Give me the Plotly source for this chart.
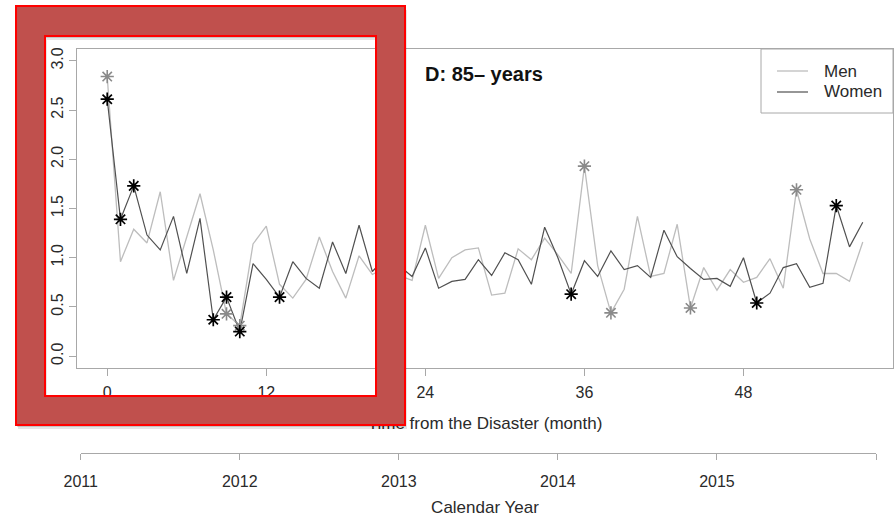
import plotly.graph_objects as go

W, H = 895, 516
FONT = "Liberation Sans, Arial, Helvetica, sans-serif"

# ---- data: monthly standardized ratio, 85+ years -------------------------
months = list(range(58))
men = [2.84, 0.96, 1.29, 1.15, 1.67, 0.77, 1.21, 1.65, 1.08, 0.43,
       0.31, 1.14, 1.32, 0.73, 0.59, 0.78, 1.21, 0.86, 0.59, 1.02,
       0.83, 0.90, 0.82, 0.77, 1.33, 0.79, 1.00, 1.08, 1.10, 0.62,
       0.64, 1.09, 0.98, 1.20, 1.03, 0.84, 1.93, 0.92, 0.44, 0.68,
       1.42, 0.81, 0.84, 1.34, 0.49, 0.90, 0.67, 0.88, 0.75, 0.80,
       0.99, 0.69, 1.69, 1.19, 0.84, 0.84, 0.76, 1.16]
women = [2.61, 1.39, 1.73, 1.23, 1.08, 1.42, 0.84, 1.40, 0.37, 0.60,
         0.25, 0.94, 0.78, 0.60, 0.96, 0.79, 0.69, 1.16, 0.84, 1.33,
         0.86, 1.00, 0.92, 0.81, 1.10, 0.69, 0.76, 0.78, 0.98, 0.82,
         1.05, 0.98, 0.73, 1.31, 1.00, 0.63, 0.97, 0.81, 1.07, 0.88,
         0.92, 0.80, 1.28, 1.01, 0.89, 0.78, 0.79, 0.71, 1.00, 0.54,
         0.64, 0.90, 0.94, 0.70, 0.74, 1.53, 1.11, 1.36]
# months flagged as significant
men_sig = [0, 9, 10, 36, 38, 44, 52]
women_sig = [0, 1, 2, 8, 9, 10, 13, 35, 49, 55]

month_ticks = [0, 12, 24, 36, 48]
y_ticks = [0.0, 0.5, 1.0, 1.5, 2.0, 2.5, 3.0]
year_start_months = [-2, 10, 22, 34, 46, 58]   # January of each year
year_labels = ["2011", "2012", "2013", "2014", "2015", ""]

# ---- layout geometry (pixels) ---------------------------------------------
PX0, PX1, PY0, PY1 = 77, 893, 49, 368
XR = [-2.28, 59.28]
YR = [-0.12, 3.12]
CAL_Y = 453

MEN_C = "#bdbdbd"
WOMEN_C = "#505050"
AX_C = "#a8a8a8"
TXT_C = "#2a2a2a"


def px_x(m):
    return PX0 + (m - XR[0]) / (XR[1] - XR[0]) * (PX1 - PX0)


def fx(px):
    return px / W


def fy(py):
    return 1 - py / H


fig = go.Figure()

fig.add_trace(go.Scatter(x=months, y=men, mode="lines", name="Men",
                         line=dict(color=MEN_C, width=1.3),
                         showlegend=False, hoverinfo="skip"))
fig.add_trace(go.Scatter(x=months, y=women, mode="lines", name="Women",
                         line=dict(color=WOMEN_C, width=1.2),
                         showlegend=False, hoverinfo="skip"))
fig.add_trace(go.Scatter(x=men_sig, y=[men[i] for i in men_sig], mode="markers",
                         marker=dict(symbol="asterisk-open", size=11, color="#8a8a8a",
                                     line=dict(color="#8a8a8a", width=1.6)),
                         showlegend=False, hoverinfo="skip"))
fig.add_trace(go.Scatter(x=women_sig, y=[women[i] for i in women_sig], mode="markers",
                         marker=dict(symbol="asterisk-open", size=11, color="#000000",
                                     line=dict(color="#000000", width=1.7)),
                         showlegend=False, hoverinfo="skip"))

# calendar-year scale (invisible anchor points at each January)
fig.add_trace(go.Scatter(x=year_start_months, y=[0.5] * len(year_start_months),
                         mode="markers", marker=dict(opacity=0, size=1),
                         xaxis="x3", yaxis="y3", showlegend=False,
                         hoverinfo="skip"))

# axis titles on a full-page pixel canvas (kept beneath the highlight frame)
fig.add_trace(go.Scatter(x=[(PX0 + PX1) / 2, (PX0 + PX1) / 2], y=[425, 509],
                         text=["Time from the Disaster (month)", "Calendar Year"],
                         mode="text", textposition="middle center",
                         textfont=dict(family=FONT, size=17, color=TXT_C),
                         xaxis="x4", yaxis="y4", showlegend=False,
                         hoverinfo="skip", cliponaxis=False))

axis_common = dict(showgrid=False, zeroline=False, ticks="outside",
                   tickcolor=AX_C, tickwidth=1, showline=True, linecolor=AX_C,
                   linewidth=1, automargin=False,
                   tickfont=dict(family=FONT, size=16, color=TXT_C))

fig.update_layout(
    width=W, height=H, autosize=False,
    margin=dict(l=0, r=0, t=0, b=0, pad=0, autoexpand=False),
    paper_bgcolor="white", plot_bgcolor="rgba(0,0,0,0)",
    showlegend=False,
    xaxis=dict(domain=[fx(PX0), fx(PX1)], range=XR, tickvals=month_ticks,
               ticklen=7, mirror=True, anchor="y", ticklabelstandoff=3,
               **axis_common),
    yaxis=dict(domain=[fy(PY1), fy(PY0)], range=YR, tickvals=y_ticks,
               ticktext=[f"{v:.1f}" for v in y_ticks], tickangle=-90,
               ticklen=7, mirror=True, anchor="x", **axis_common),
    xaxis3=dict(domain=[fx(px_x(-2)), fx(px_x(58))], range=[-2, 58],
                tickvals=year_start_months, ticktext=year_labels,
                ticklen=6, anchor="y3", ticklabelstandoff=8, **axis_common),
    yaxis3=dict(domain=[fy(CAL_Y), fy(CAL_Y) + 0.02], range=[0, 1],
                visible=False, anchor="x3"),
    xaxis4=dict(domain=[0, 1], range=[0, W], visible=False, anchor="y4"),
    yaxis4=dict(domain=[0, 1], range=[H, 0], visible=False, anchor="x4"),
)

# panel title
fig.add_annotation(x=fx(423), y=fy(74), xref="paper", yref="paper",
                   text="<b>D: 85\u2013 years</b>", showarrow=False,
                   xanchor="left", yanchor="middle",
                   font=dict(family=FONT, size=20, color="#111111"))

# legend box
LG = dict(x0=761, x1=PX1, y0=PY0, y1=113)
fig.add_shape(type="rect", xref="paper", yref="paper",
              x0=fx(LG["x0"]), x1=fx(LG["x1"]), y0=fy(LG["y1"]), y1=fy(LG["y0"]),
              line=dict(color=AX_C, width=1), fillcolor="white", layer="above")
for label, color, width, py in [("Men", MEN_C, 1.3, 71), ("Women", WOMEN_C, 1.2, 92)]:
    fig.add_shape(type="line", xref="paper", yref="paper",
                  x0=fx(777), x1=fx(808), y0=fy(py), y1=fy(py),
                  line=dict(color=color, width=width), layer="above")
    fig.add_annotation(x=fx(822), y=fy(py), xref="paper", yref="paper",
                       text=label, showarrow=False, xanchor="left",
                       yanchor="middle",
                       font=dict(family=FONT, size=17, color=TXT_C))


# highlight frame over the first months
def ring_path(outer, inner, dx=0, dy=0):
    def rect(x0, y0, x1, y1):
        return (f"M{fx(x0 + dx)},{fy(y0 + dy)} L{fx(x1 + dx)},{fy(y0 + dy)} "
                f"L{fx(x1 + dx)},{fy(y1 + dy)} L{fx(x0 + dx)},{fy(y1 + dy)} Z")
    return rect(*outer) + " " + rect(*inner)


OUTER = (16, 6, 405, 425)
INNER = (45, 36, 376, 396)

for dx, dy, alpha in [(2, 4, 0.10), (1, 2, 0.14)]:
    fig.add_shape(type="path", xref="paper", yref="paper",
                  path=ring_path(OUTER, INNER, dx, dy), fillrule="evenodd",
                  fillcolor=f"rgba(0,0,0,{alpha})", line=dict(width=0),
                  layer="above")
fig.add_shape(type="path", xref="paper", yref="paper",
              path=ring_path(OUTER, INNER), fillrule="evenodd",
              fillcolor="#c0504d", line=dict(width=0), layer="above")
for (x0, y0, x1, y1) in (OUTER, INNER):
    fig.add_shape(type="rect", xref="paper", yref="paper",
                  x0=fx(x0), x1=fx(x1), y0=fy(y1), y1=fy(y0),
                  line=dict(color="#ff0000", width=2), layer="above")

fig.write_html("out.html")
